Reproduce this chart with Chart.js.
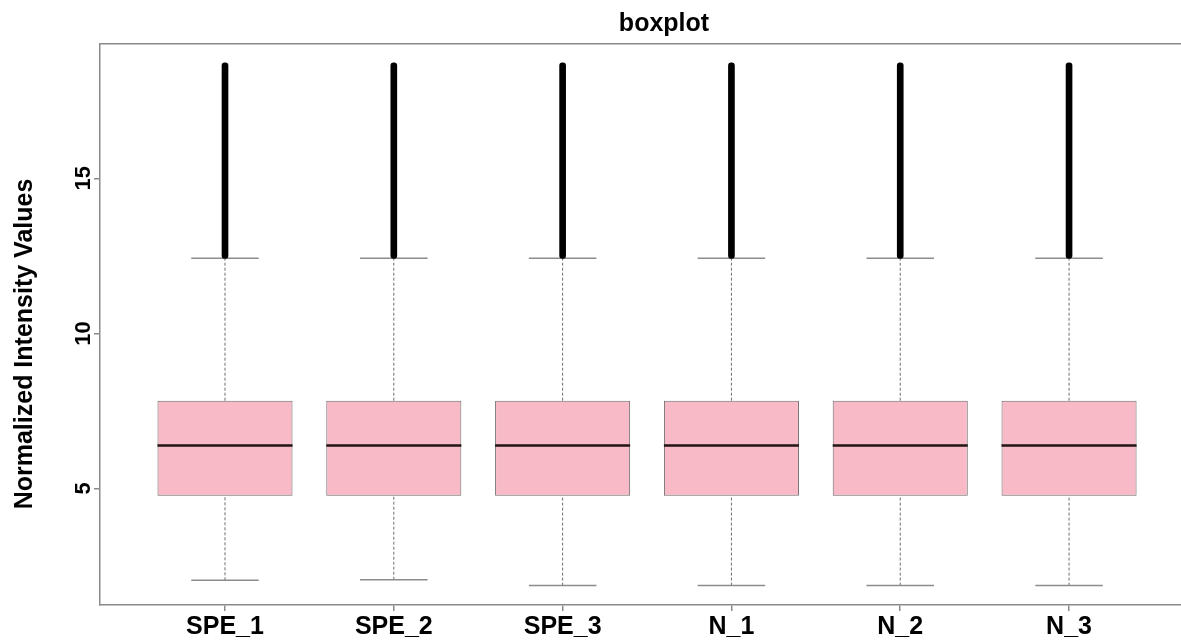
<!DOCTYPE html>
<html>
<head>
<meta charset="utf-8">
<title>boxplot</title>
<script src="https://cdn.jsdelivr.net/npm/chart.js@4.4.1/dist/chart.umd.min.js"></script>
<style>
  html, body { margin: 0; padding: 0; background: #fff; overflow: hidden; }
</style>
</head>
<body>
<canvas id="boxChart" width="1328" height="641"></canvas>
<script>
// data
const categories = ['SPE_1', 'SPE_2', 'SPE_3', 'N_1', 'N_2', 'N_3'];
const lowerWhisker = [2.04, 2.06, 1.87, 1.87, 1.87, 1.87];
const q1 = [4.77, 4.77, 4.77, 4.77, 4.77, 4.77];
const median = [6.39, 6.39, 6.39, 6.39, 6.39, 6.39];
const q3 = [7.83, 7.83, 7.83, 7.83, 7.83, 7.83];
const upperWhisker = [12.42, 12.42, 12.42, 12.42, 12.42, 12.42];
const outlierMax = [18.72, 18.72, 18.72, 18.72, 18.72, 18.72];
const yTicks = [5, 10, 15];
const yTitle = 'Normalized Intensity Values';

const boxHalf = 0.4;
const capHalf = 0.2;
const axisColor = '#8a8a8a';
const fontFamily = '"Liberation Sans", Arial, Helvetica, sans-serif';

// vertical pieces: one segment per category, broken by a null point
function vSegments(from, to) {
  const pts = [];
  for (let i = 0; i < categories.length; i++) {
    pts.push({x: i + 1, y: from[i]}, {x: i + 1, y: to[i]}, {x: i + 1, y: null});
  }
  return pts;
}
function hSegments(vals, half) {
  const pts = [];
  for (let i = 0; i < categories.length; i++) {
    pts.push({x: i + 1 - half, y: vals[i]}, {x: i + 1 + half, y: vals[i]}, {x: i + 1, y: null});
  }
  return pts;
}

// y title, drawn a bit lower than the scale centre like the original
const yTitlePlugin = {
  id: 'yTitle',
  afterDraw(chart) {
    const c = chart.ctx;
    c.save();
    c.translate(25, 344);
    c.rotate(-Math.PI / 2);
    c.font = 'bold 25px ' + fontFamily;
    c.fillStyle = '#000';
    c.textAlign = 'center';
    c.textBaseline = 'middle';
    c.fillText(yTitle, 0, 0);
    c.restore();
  }
};

const lineBase = {type: 'line', pointRadius: 0, tension: 0, spanGaps: false, fill: false};

const ctx = document.getElementById('boxChart');

new Chart(ctx, {
  type: 'bar',
  data: {
    datasets: [
      Object.assign({}, lineBase, {
        label: 'whiskers',
        data: vSegments(q3, upperWhisker).concat(vSegments(lowerWhisker, q1)),
        borderColor: '#6e6e6e',
        borderWidth: 1,
        borderDash: [3, 2],
        order: 5
      }),
      Object.assign({}, lineBase, {
        label: 'caps',
        data: hSegments(upperWhisker, capHalf).concat(hSegments(lowerWhisker, capHalf)),
        borderColor: '#8c8c8c',
        borderWidth: 1.5,
        order: 4
      }),
      {
        label: 'box',
        data: categories.map((c, i) => ({x: i + 1, y: [q1[i], q3[i]]})),
        backgroundColor: '#f8bac6',
        borderColor: '#6a6a6a',
        borderWidth: 1,
        borderSkipped: false,
        grouped: false,
        barPercentage: 2 * boxHalf,
        categoryPercentage: 1,
        order: 3
      },
      Object.assign({}, lineBase, {
        label: 'median',
        data: hSegments(median, boxHalf),
        borderColor: '#231515',
        borderWidth: 2.5,
        order: 2
      }),
      {
        label: 'outliers',
        data: categories.map((c, i) => ({x: i + 1, y: [upperWhisker[i], outlierMax[i]]})),
        backgroundColor: '#000000',
        borderWidth: 0,
        borderRadius: 3,
        borderSkipped: false,
        grouped: false,
        barThickness: 6,
        order: 1
      }
    ]
  },
  options: {
    responsive: false,
    animation: false,
    devicePixelRatio: 1,
    layout: {padding: 0},
    plugins: {
      legend: {display: false},
      tooltip: {enabled: false},
      title: {
        display: true,
        text: 'boxplot',
        color: '#000',
        font: {family: fontFamily, size: 25, weight: 'bold'},
        padding: {top: 9, bottom: 5}
      }
    },
    scales: {
      x: {
        type: 'linear',
        position: 'bottom',
        min: 0.2595,
        max: 7.534,
        offset: false,
        grid: {display: true, offset: false, drawOnChartArea: false, drawTicks: true, tickLength: 6, color: axisColor, lineWidth: 1.5},
        border: {display: true, color: axisColor, width: 1.5},
        ticks: {
          stepSize: 1,
          includeBounds: false,
          autoSkip: false,
          maxRotation: 0,
          padding: 1,
          color: '#000',
          font: {family: fontFamily, size: 25, weight: 'bold'},
          callback: v => categories[v - 1] || ''
        },
        afterBuildTicks: s => { s.ticks = categories.map((c, i) => ({value: i + 1})); },
        afterFit: s => { s.height = 36; }
      },
      xTop: {
        type: 'linear',
        position: 'top',
        display: true,
        min: 0.2595,
        max: 7.534,
        grid: {display: false, drawTicks: false},
        border: {display: true, color: axisColor, width: 1.5},
        ticks: {display: false},
        afterFit: s => { s.height = 0; }
      },
      y: {
        type: 'linear',
        min: 1.244,
        max: 19.33,
        grid: {display: true, drawOnChartArea: false, drawTicks: true, tickLength: 6, color: axisColor, lineWidth: 1.5},
        border: {display: true, color: axisColor, width: 1.5},
        ticks: {
          minRotation: 90,
          maxRotation: 90,
          crossAlign: 'center',
          padding: -2,
          color: '#000',
          font: {family: fontFamily, size: 22, weight: 'bold'}
        },
        afterBuildTicks: s => { s.ticks = yTicks.map(v => ({value: v})); },
        afterFit: s => { s.width = 100; }
      }
    }
  },
  plugins: [yTitlePlugin]
});
</script>
</body>
</html>
